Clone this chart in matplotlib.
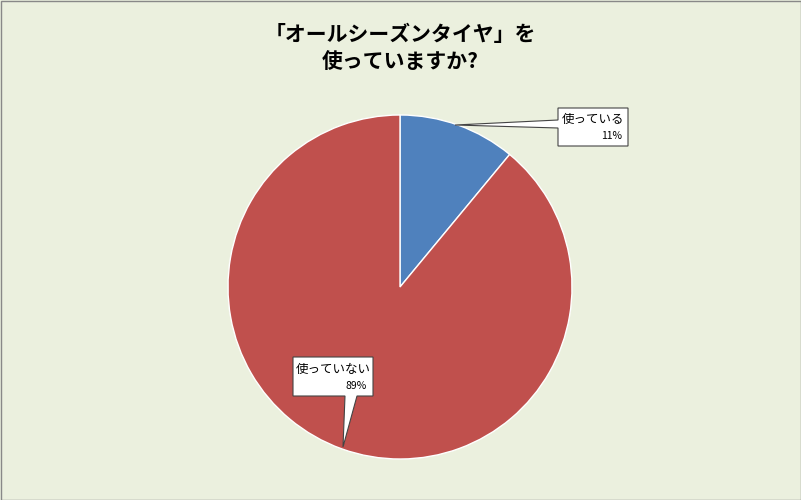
import matplotlib.pyplot as plt
from matplotlib.patches import Polygon, Rectangle

plt.rcParams['font.family'] = ['Noto Sans CJK JP', 'DejaVu Sans']

labels = ['使っている', '使っていない']
values = [11, 89]
colors = ['#4F81BD', '#C0504D']

W, H = 801, 500
fig = plt.figure(figsize=(W / 100, H / 100), dpi=100, facecolor='#EBF0DE')
fig.patches.append(Rectangle((0.5 / W, 0.5 / H), 1 - 1 / W, 1 - 1 / H, transform=fig.transFigure,
                             fill=False, edgecolor='#888888', lw=1))

cx, cy, r = 400, 500 - 287, 172
ax = fig.add_axes([(cx - r) / W, (cy - r) / H, 2 * r / W, 2 * r / H])
ax.pie(values, colors=colors, startangle=90, counterclock=False,
       wedgeprops=dict(edgecolor='white', linewidth=1))
ax.set_xlim(-1, 1)
ax.set_ylim(-1, 1)
ax.axis('off')

fig.text(0.5, 1 - 48 / H, '「オールシーズンタイヤ」を\n使っていますか?', ha='center', va='center',
         fontsize=15, fontweight='bold', linespacing=1.3)


def callout(pts, box, name, pct):
    tr = lambda p: (p[0] / W, 1 - p[1] / H)
    fig.patches.append(Polygon([tr(p) for p in pts], closed=True, transform=fig.transFigure,
                               facecolor='white', edgecolor='#444444', lw=0.8))
    x0, y0, x1, y1 = box
    fig.text(((x0 + x1) / 2) / W, 1 - (y0 + 12) / H, name, ha='center', va='center', fontsize=9)
    fig.text((x1 - 6) / W, 1 - (y1 - 10) / H, pct, ha='right', va='center', fontsize=7.5)


callout([(558, 108), (628, 108), (628, 146), (558, 146), (558, 128), (455, 125), (558, 120)],
        (558, 108, 628, 146), labels[0], f'{values[0]}%')
callout([(293, 357), (373, 357), (373, 396), (357, 396), (343, 447), (345, 396), (293, 396)],
        (293, 357, 373, 396), labels[1], f'{values[1]}%')

fig.savefig('out.png', dpi=100, facecolor=fig.get_facecolor())
